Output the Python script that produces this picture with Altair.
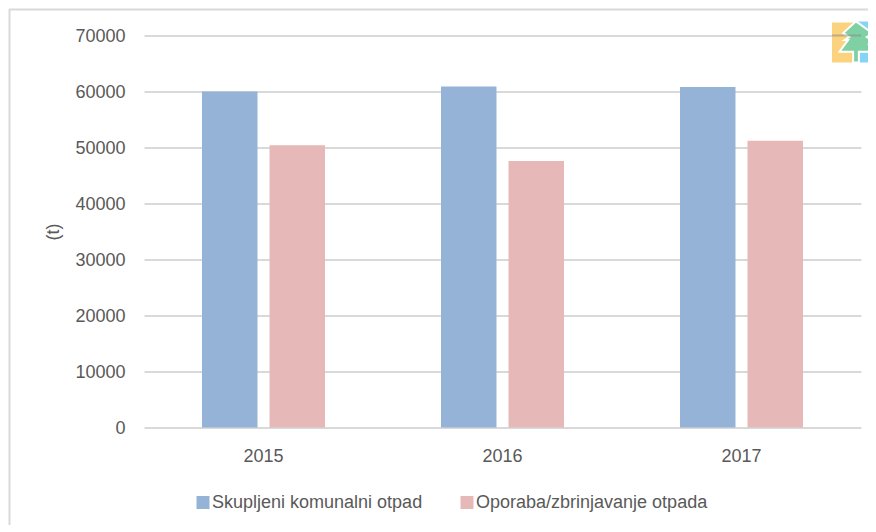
import altair as alt
import pandas as pd

years = ["2015", "2016", "2017"]
series_names = ["Skupljeni komunalni otpad", "Oporaba/zbrinjavanje otpada"]
collected = [60000, 60900, 60800]
recovered = [50400, 47600, 51200]
colors = ["#95B3D7", "#E6B9B8"]
y_ticks = [0, 10000, 20000, 30000, 40000, 50000, 60000, 70000]

df = pd.DataFrame(
    [{"year": y, "series": series_names[0], "value": v} for y, v in zip(years, collected)]
    + [{"year": y, "series": series_names[1], "value": v} for y, v in zip(years, recovered)]
)

FONT = "Liberation Sans"
W, H = 717, 392
LEFT, TOP = 136, 27.5

tree = ("M0 -1 L0.8 -0.43 L0.52 -0.24 L0.9 0 L0.62 0.12 L0.95 0.47 L0.14 0.47 L0.14 1 "
        "L-0.14 1 L-0.14 0.47 L-0.8 0.47 L-0.38 -0.1 L-0.55 -0.1 L-0.33 -0.24 L-0.62 -0.43 Z")

base = alt.Chart(pd.DataFrame({"a": [0]}))

frame_top = base.mark_rule(color="#D9D9D9", strokeWidth=2, clip=False).encode(
    x=alt.value(-LEFT + 1), x2=alt.value(W + 20), y=alt.value(-TOP + 1.5))
frame_left = base.mark_rule(color="#D9D9D9", strokeWidth=2, clip=False).encode(
    x=alt.value(-LEFT + 1.5), y=alt.value(-TOP + 1), y2=alt.value(H + 120))

logo_yellow = base.mark_rect(color="#FBD37E", clip=False).encode(
    x=alt.value(688), x2=alt.value(712), y=alt.value(-13), y2=alt.value(27))
logo_blue = base.mark_rect(color="#86D4F5", clip=False).encode(
    x=alt.value(712), x2=alt.value(735), y=alt.value(-14), y2=alt.value(27))
logo_tree = base.mark_point(shape=tree, filled=True, fill="#7FD0A2", stroke="white",
                            strokeWidth=2, opacity=1, clip=False).encode(
    x=alt.value(712), y=alt.value(6.5), size=alt.value(1700))
logo_line = base.mark_rule(color="#8A8A8A", opacity=0.55, strokeWidth=2, clip=False).encode(
    x=alt.value(688), x2=alt.value(717), y=alt.value(0))

bars = alt.Chart(df).mark_bar().encode(
    x=alt.X("year:N", sort=years,
            scale=alt.Scale(paddingInner=0, paddingOuter=0),
            axis=alt.Axis(title=None, labelAngle=0, labelFontSize=18, labelColor="#595959",
                          labelFont=FONT, ticks=False, domain=False, labelPadding=20, grid=False)),
    xOffset=alt.XOffset("series:N", sort=series_names,
                        scale=alt.Scale(paddingInner=0.178, paddingOuter=0.859)),
    y=alt.Y("value:Q",
            scale=alt.Scale(domain=[0, 70000], nice=False),
            axis=alt.Axis(values=y_ticks, title="(t)", titleFont=FONT, titleFontSize=18,
                          titleFontWeight="normal", titleColor="#595959", titlePadding=12,
                          labelFont=FONT, labelFontSize=18, labelColor="#595959", labelOffset=1,
                          labelPadding=19, ticks=False, domain=False, format="d",
                          grid=True, gridColor="#D9D9D9", gridWidth=2)),
    color=alt.Color("series:N", sort=series_names,
                    scale=alt.Scale(domain=series_names, range=colors),
                    legend=alt.Legend(title=None, orient="none", legendX=50, legendY=458,
                                      direction="horizontal", columns=2, symbolType="square",
                                      symbolSize=169, symbolStrokeWidth=0, labelFont=FONT,
                                      labelFontSize=18, labelColor="#595959", labelOffset=0,
                                      columnPadding=35, labelLimit=400, padding=0)),
)

chart = alt.layer(frame_top, frame_left, logo_yellow, logo_blue, logo_tree, logo_line, bars).properties(
    width=W, height=H, background="white",
    padding={"left": LEFT, "top": TOP, "right": 7, "bottom": 97},
    autosize=alt.AutoSizeParams(type="none"),
).configure_view(stroke=None).resolve_scale(x="shared")

chart.save("out.html", embed_options={"renderer": "svg", "actions": False})
